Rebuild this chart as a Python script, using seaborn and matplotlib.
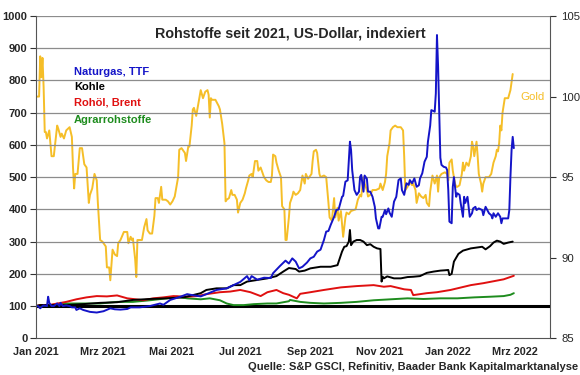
import numpy as np
import pandas as pd
import matplotlib
matplotlib.use("Agg")
import matplotlib.pyplot as plt
import seaborn as sns

# ---------------- data (day offsets from 2021-01-01) ----------------
gas_days = [0, 2, 4, 6, 7, 10, 11, 12, 14, 16, 19, 21, 22, 24, 27, 30, 32, 35, 36, 39, 42, 48, 54, 60, 66, 70,
            75, 81, 84, 92, 101, 110, 113, 119, 128, 134, 140, 146, 151, 160, 169, 175, 181, 187, 189, 191, 196,
            202, 208, 210, 216, 221, 224, 227, 230, 233, 236, 240, 243, 246, 249, 252, 255, 257, 259, 261, 264,
            266, 268, 271, 272, 274, 276, 278, 279, 280, 282, 284, 286, 287, 288, 290, 291, 293, 294, 296, 298,
            300, 301, 303, 304, 306, 307, 309, 310, 312, 313, 315, 317, 319, 321, 323, 324, 326, 328, 330, 331,
            333, 335, 337, 339, 340, 342, 344, 346, 347, 349, 350, 352, 353, 354, 355, 356, 357, 358, 359, 361,
            363, 364, 365, 366, 368, 369, 370, 372, 373, 375, 376, 377, 378, 379, 380, 382, 383, 384, 386, 387,
            389, 390, 392, 395, 396, 398, 401, 403, 404, 405, 407, 409, 411, 412, 413, 416, 418, 419, 420, 421,
            422, 423]
gas_vals = [100, 100, 93, 100, 102, 100, 129, 110, 100, 100, 108, 100, 110, 100, 102, 100, 96, 96, 88, 93, 88, 82,
            80, 84, 93, 90, 89, 91, 96, 96, 100, 108, 104, 119, 129, 137, 133, 130, 137, 150, 155, 165, 175, 193,
            180, 193, 182, 188, 187, 202, 224, 241, 232, 248, 238, 217, 222, 235, 248, 253, 269, 275, 305, 331,
            333, 352, 377, 398, 400, 439, 442, 486, 490, 610, 584, 522, 460, 445, 455, 501, 507, 455, 505, 495,
            455, 455, 439, 408, 372, 341, 341, 377, 377, 398, 385, 403, 390, 377, 424, 439, 491, 496, 460, 445,
            481, 476, 491, 481, 496, 470, 475, 496, 512, 548, 563, 610, 660, 708, 705, 703, 760, 941, 843, 700,
            560, 538, 532, 530, 522, 460, 362, 357, 470, 500, 439, 450, 445, 419, 398, 377, 439, 420, 439, 408,
            377, 388, 403, 408, 398, 403, 398, 382, 408, 388, 382, 372, 388, 377, 388, 377, 357, 372, 372, 372,
            398, 501, 584, 625, 590]

coal_days = [0, 4, 27, 42, 57, 72, 86, 101, 116, 131, 146, 151, 160, 169, 175, 181, 187, 196, 205, 213, 219, 224,
             230, 233, 238, 243, 252, 261, 267, 269, 271, 273, 275, 277, 278, 279, 281, 284, 287, 290, 293, 296,
             299, 302, 305, 306, 307, 308, 311, 317, 323, 329, 334, 340, 346, 352, 358, 362, 365, 366, 368, 370,
             374, 378, 385, 395, 398, 402, 405, 408, 411, 414, 418, 422]
coal_vals = [100, 103, 103, 106, 110, 112, 119, 122, 124, 127, 140, 150, 155, 155, 165, 165, 176, 181, 186, 193,
             207, 218, 215, 207, 210, 217, 222, 222, 227, 248, 269, 284, 286, 300, 336, 289, 300, 305, 305, 300,
             289, 292, 284, 279, 277, 176, 191, 186, 192, 186, 186, 190, 191, 193, 203, 207, 210, 211, 212, 196,
             200, 238, 262, 272, 279, 284, 276, 286, 297, 303, 300, 293, 297, 300]

oil_days = [0, 4, 13, 27, 36, 45, 54, 63, 72, 81, 86, 95, 104, 113, 122, 134, 143, 151, 163, 172, 181, 190, 199,
            205, 213, 219, 224, 231, 234, 243, 255, 270, 284, 299, 308, 314, 326, 332, 334, 340, 346, 355, 367,
            373, 385, 396, 408, 414, 423]
oil_vals = [100, 103, 104, 113, 121, 127, 131, 130, 133, 124, 122, 118, 124, 127, 131, 129, 131, 137, 143, 145,
            150, 143, 131, 143, 150, 140, 135, 124, 138, 143, 150, 158, 162, 165, 160, 162, 152, 150, 134, 137,
            140, 143, 150, 155, 165, 171, 179, 183, 194]

agri_days = [0, 13, 27, 57, 72, 86, 101, 116, 125, 134, 146, 154, 163, 169, 175, 184, 193, 205, 213, 224, 225, 234,
             243, 255, 270, 284, 299, 314, 329, 343, 358, 373, 388, 402, 414, 420, 423]
agri_vals = [100, 103, 108, 108, 113, 113, 118, 124, 129, 124, 121, 124, 118, 108, 103, 103, 106, 108, 108, 115,
             119, 113, 110, 108, 110, 113, 118, 121, 124, 122, 124, 124, 127, 129, 131, 135, 140]

gold_days = [0, 3, 4, 5, 6, 7, 8, 9, 10, 12, 14, 16, 19, 20, 22, 23, 25, 27, 30, 32, 33, 34, 35, 37, 39, 41, 43, 45,
             47, 48, 50, 52, 54, 55, 57, 59, 60, 62, 63, 65, 66, 68, 70, 72, 73, 75, 78, 81, 82, 84, 85, 86, 88,
             89, 90, 92, 94, 96, 98, 99, 101, 103, 105, 106, 108, 109, 111, 112, 115, 117, 119, 121, 123, 124, 126,
             127, 129, 132, 133, 135, 136, 138, 139, 140, 142, 143, 145, 146, 148, 150, 152, 153, 154, 155, 156,
             159, 162, 163, 165, 167, 168, 169, 171, 173, 174, 176, 178, 179, 181, 183, 185, 186, 188, 189, 191,
             192, 194, 196, 197, 199, 201, 202, 204, 206, 208, 209, 210, 212, 213, 215, 217, 218, 220, 221, 222,
             224, 225, 227, 228, 230, 232, 234, 236, 238, 239, 241, 244, 245, 246, 248, 249, 251, 252, 255, 257,
             258, 259, 260, 262, 264, 265, 267, 268, 270, 271, 272, 274, 275, 277, 279, 283, 285, 287, 288, 290,
             291, 293, 294, 296, 298, 301, 304, 305, 307, 309, 310, 311, 313, 314, 316, 318, 320, 323, 325, 326,
             327, 329, 331, 333, 334, 336, 337, 339, 341, 343, 345, 346, 348, 349, 351, 353, 355, 356, 357, 359,
             362, 364, 365, 366, 368, 369, 370, 371, 372, 373, 375, 377, 378, 379, 381, 383, 385, 386, 387, 388,
             390, 391, 392, 394, 395, 396, 398, 401, 403, 405, 407, 408, 409, 410, 411, 412, 413, 415, 418, 420,
             422]
gold_vals = [100.0, 100.0, 102.5, 101.2, 102.4, 100.6, 97.8, 97.8, 97.4, 97.9, 96.3, 96.3, 98.2, 98.0, 97.5,
             97.7, 97.4, 97.9, 98.1, 97.5, 95.6, 94.3, 95.2, 95.2, 96.8, 96.8, 95.8, 95.6, 93.4, 93.9, 94.3, 95.2,
             94.8, 93.4, 91.1, 91.0, 90.9, 90.7, 89.4, 89.4, 88.6, 90.5, 90.2, 90.1, 90.9, 91.1, 91.6, 91.6, 90.9,
             91.3, 91.1, 91.2, 89.9, 88.8, 91.1, 91.1, 91.1, 91.9, 92.4, 91.7, 91.5, 91.5, 92.6, 93.7, 93.7, 93.4,
             94.4, 93.6, 93.6, 93.5, 93.3, 93.5, 93.8, 94.2, 95.0, 96.7, 96.8, 96.5, 96.0, 96.9, 96.9, 98.2, 99.2,
             99.3, 98.8, 99.2, 100.0, 100.4, 99.9, 100.3, 100.4, 100.1, 98.7, 99.9, 99.8, 99.8, 99.4, 99.2, 98.3,
             97.1, 93.5, 93.6, 93.7, 94.2, 93.9, 93.9, 93.6, 92.8, 93.4, 93.6, 94.0, 94.3, 94.8, 95.1, 95.2, 95.0,
             96.0, 96.0, 95.4, 95.6, 95.2, 95.0, 94.8, 94.7, 94.7, 95.1, 96.4, 96.3, 95.9, 95.4, 95.0, 93.2, 93.0,
             91.1, 91.1, 92.5, 93.4, 93.8, 94.1, 93.9, 94.0, 94.2, 95.1, 94.6, 95.2, 94.9, 95.2, 96.0, 96.6, 96.7,
             96.5, 95.2, 95.0, 95.1, 95.0, 94.2, 93.4, 92.5, 92.3, 93.7, 92.5, 93.1, 92.3, 92.9, 92.1, 91.3, 92.5,
             92.8, 92.7, 92.9, 93.0, 93.6, 93.9, 93.8, 95.0, 94.6, 94.2, 93.8, 93.9, 94.2, 94.2, 94.3, 94.6, 94.2,
             94.7, 95.2, 96.3, 97.1, 97.9, 98.1, 98.2, 98.1, 98.1, 97.9, 96.3, 94.2, 94.4, 94.7, 94.5, 94.6, 94.2,
             93.4, 94.0, 93.8, 93.7, 93.9, 93.4, 93.2, 94.1, 95.1, 94.6, 95.1, 94.1, 95.0, 95.2, 95.3, 95.2, 94.8,
             95.9, 96.1, 95.4, 95.0, 94.6, 94.4, 94.4, 94.5, 95.2, 95.9, 95.4, 95.9, 95.7, 96.3, 97.2, 96.9, 96.3,
             97.2, 96.3, 95.2, 94.6, 94.1, 94.6, 95.0, 95.0, 95.2, 95.9, 96.3, 96.7, 96.6, 97.1, 98.2, 97.9, 99.0,
             99.9, 99.9, 100.4, 101.4]

start_date = "2021-01-01"
end_date = "2022-04-01"
tick_dates = ["2021-01-01", "2021-03-01", "2021-05-01", "2021-07-01", "2021-09-01", "2021-11-01",
              "2022-01-01", "2022-03-01"]
tick_labels = ["Jan 2021", "Mrz 2021", "Mai 2021", "Jul 2021", "Sep 2021", "Nov 2021", "Jan 2022", "Mrz 2022"]
left_ticks = [0, 100, 200, 300, 400, 500, 600, 700, 800, 900, 1000]
right_ticks = [85, 90, 95, 100, 105]

series_names = ["Agrarrohstoffe", "Rohöl, Brent", "Kohle", "Naturgas, TTF"]
series_colors = ["#1E8C1E", "#E01010", "#000000", "#1414C8"]
gold_color = "#F5BE28"

# ---------------- build frames ----------------
t0 = pd.Timestamp(start_date)
def to_dates(days):
    return t0 + pd.to_timedelta(np.array(days), unit="D")

frames = []
for name, d, v in [("Agrarrohstoffe", agri_days, agri_vals), ("Rohöl, Brent", oil_days, oil_vals),
                   ("Kohle", coal_days, coal_vals), ("Naturgas, TTF", gas_days, gas_vals)]:
    frames.append(pd.DataFrame({"date": to_dates(d), "value": v, "series": name}))
df = pd.concat(frames, ignore_index=True)
gold_df = pd.DataFrame({"date": to_dates(gold_days), "value": gold_vals})

# ---------------- style ----------------
sns.set_style("white")
plt.rcParams["font.family"] = ["Liberation Sans", "DejaVu Sans"]

fig = plt.figure(figsize=(5.8, 3.75), dpi=100)
ax = fig.add_axes([35.7 / 580, 1 - 338.3 / 375, (550 - 35.7) / 580, (338.3 - 16) / 375])
ax2 = ax.twinx()

# gold on secondary axis
sns.lineplot(data=gold_df, x="date", y="value", ax=ax2, color=gold_color, lw=1.4, estimator=None)
ax2.set_ylim(85, 105)
ax2.set_yticks(right_ticks)
ax2.set_yticklabels([str(t) for t in right_ticks], fontsize=8.2)
ax2.set_ylabel("")
ax2.tick_params(axis="y", direction="out", length=4, width=0.8, color="#333333", pad=4)

# primary series
ax.set_zorder(ax2.get_zorder() + 1)
ax.patch.set_visible(False)
ax.axhline(100, color="black", lw=2.2, zorder=1.5)
sns.lineplot(data=df, x="date", y="value", hue="series", hue_order=series_names,
             palette=dict(zip(series_names, series_colors)), ax=ax, lw=1.4, estimator=None,
             sort=False, legend=False)

ax.set_ylim(0, 1000)
ax.set_yticks(left_ticks)
ax.set_yticklabels([str(t) for t in left_ticks], fontsize=8, fontweight="bold")
ax.set_xlim(pd.Timestamp(start_date), pd.Timestamp(end_date))
ax2.set_xlim(pd.Timestamp(start_date), pd.Timestamp(end_date))
ax.set_xticks(pd.to_datetime(tick_dates))
ax.set_xticklabels(tick_labels, fontsize=7.8, fontweight="bold")
ax.set_xlabel("")
ax.set_ylabel("")
ax.tick_params(axis="both", direction="out", length=4, width=0.8, color="#333333", pad=2)

for y in left_ticks[1:]:
    ax.axhline(y, color="#8C8C8C", lw=0.9, zorder=0.5)

for a in (ax, ax2):
    a.spines["top"].set_visible(False)
    a.spines["left"].set_color("#555555")
    a.spines["bottom"].set_color("#555555")
    a.spines["right"].set_color("#555555")
    for s in a.spines.values():
        s.set_linewidth(0.8)
ax.spines["right"].set_visible(False)
ax2.spines["left"].set_visible(False)
ax2.spines["bottom"].set_visible(False)

# texts
fig.text(0.5, 1 - 33 / 375, "Rohstoffe seit 2021, US-Dollar, indexiert", ha="center", va="center",
         fontsize=10.3, fontweight="bold")
label_y = [71.7, 86.7, 102.7, 120]
for name, col, yy in zip(["Naturgas, TTF", "Kohle", "Rohöl, Brent", "Agrarrohstoffe"],
                         ["#1414C8", "#000000", "#E01010", "#1E8C1E"], label_y):
    fig.text(74 / 580, 1 - yy / 375, name, color=col, fontsize=8, fontweight="bold", ha="left", va="center")
fig.text(520 / 580, 1 - 96.7 / 375, "Gold", color=gold_color, fontsize=8.2, ha="left", va="center")
fig.text(578 / 580, 1 - 367 / 375, "Quelle: S&P GSCI, Refinitiv, Baader Bank Kapitalmarktanalyse",
         ha="right", va="center", fontsize=8, fontweight="bold")

fig.savefig("out.png", dpi=100)
